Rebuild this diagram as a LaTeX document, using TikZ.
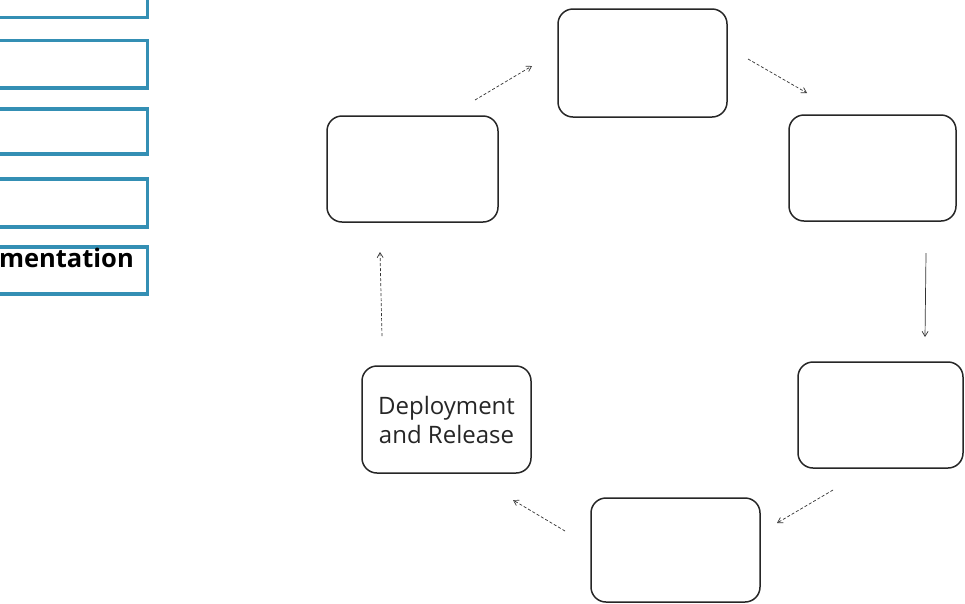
\documentclass[tikz,border=0pt]{standalone}
\usepackage{fontspec}
\setmainfont{Open Sans}
\usetikzlibrary{arrows.meta}

\definecolor{listblue}{RGB}{52,143,180}

\tikzset{
    stage/.style = {draw = black!85, line width = 1.5pt, rounded corners = 15pt, fill = white, inner sep = 0pt},
    listbox/.style = {draw = listblue, line width = 3.5pt, fill = white, minimum width = 220pt, inner sep = 0pt, anchor = east},
    flow/.style = {draw = black!80, line width = 0.7pt, densely dashed, -{Straight Barb[length = 5pt, width = 6pt]}}
}

\begin{document}
\begin{tikzpicture}[x = 1pt, y = -1pt]
        \useasboundingbox[fill = white] (0, 0) rectangle (965, 603);
        % list on the left, cut at the page edge
        \node[listbox, minimum height = 40pt] (item1) at (149, -2.5) {};
        \node[listbox, minimum height = 47.5pt] (item2) at (149, 64.25) {};
        \node[listbox, minimum height = 45pt] (item3) at (149, 131.5) {};
        \node[listbox, minimum height = 48pt] (item4) at (149, 203) {};
        \node[listbox, minimum height = 47pt] (item5) at (149, 270.5) {};
        \node[font = \fontsize{25.5}{30}\selectfont\bfseries, anchor = base east, inner sep = 0pt] (item5text) at (134, 267) {mentation};
        % cycle of stages
        \node[stage, minimum width = 169pt, minimum height = 108pt] (plan) at (642.5, 63) {};
        \node[stage, minimum width = 171pt, minimum height = 106pt] (define) at (412.5, 169) {};
        \node[stage, minimum width = 167pt, minimum height = 106pt] (design) at (872.5, 168) {};
        \node[stage, minimum width = 165pt, minimum height = 106pt] (build) at (880.5, 415) {};
        \node[stage, minimum width = 169pt, minimum height = 104pt] (test) at (675.5, 550) {};
        \node[stage, minimum width = 169pt, minimum height = 107pt, align = center, font = \fontsize{24}{29}\selectfont, text = black!85] (deploy) at (446.5, 419.5) {Deployment\\and Release};
        % arrows between the stages
        \coordinate (p1) at (475, 100);
        \coordinate (p2) at (532, 66);
        \coordinate (p3) at (748, 59);
        \coordinate (p4) at (807, 93);
        \coordinate (p5) at (926, 253);
        \coordinate (p6) at (925, 337);
        \coordinate (p7) at (833, 490);
        \coordinate (p8) at (777, 523);
        \coordinate (p9) at (565, 531);
        \coordinate (p10) at (513, 500);
        \coordinate (p11) at (382, 336);
        \coordinate (p12) at (380, 252);
        \draw[flow] (p1) -- (p2);
        \draw[flow] (p3) -- (p4);
        \draw[flow, solid] (p5) -- (p6);
        \draw[flow] (p7) -- (p8);
        \draw[flow] (p9) -- (p10);
        \draw[flow] (p11) -- (p12);
    \end{tikzpicture}
\end{document}
